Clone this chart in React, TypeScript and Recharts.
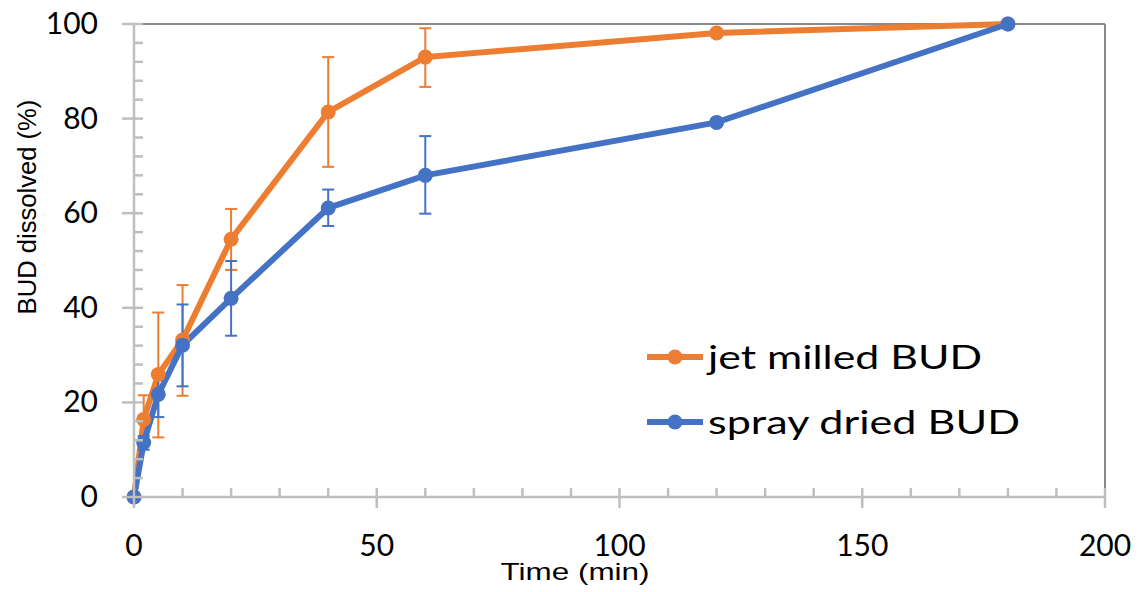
import React from 'react';
import { LineChart, Line, XAxis, YAxis, ErrorBar, ReferenceLine, Legend } from 'recharts';

const times = [0, 2, 5, 10, 20, 40, 60, 120, 180];

const jetMilled = [0, 16.4, 25.9, 33.2, 54.5, 81.4, 93.0, 98.1, 100];
const jetMilledHigh = [0, 21.5, 39.0, 44.8, 60.9, 93.0, 99.1, 98.1, 100];
const jetMilledLow = [0, 11.2, 12.6, 21.4, 48.0, 69.8, 86.7, 98.1, 100];

const sprayDried = [0, 11.5, 21.7, 32.1, 42.0, 61.1, 68.0, 79.2, 100];
const sprayDriedHigh = [0, 12.9, 26.6, 40.7, 49.9, 65.0, 76.3, 79.2, 100];
const sprayDriedLow = [0, 10.0, 16.9, 23.4, 34.1, 57.3, 59.9, 79.2, 100];

const xTicks = [0, 10, 20, 30, 40, 50, 60, 70, 80, 90, 100, 110, 120, 130, 140, 150, 160, 170, 180, 190, 200];
const xLabels = [0, 50, 100, 150, 200];
const yTicks = [0, 4, 8, 12, 16, 20, 24, 28, 32, 36, 40, 44, 48, 52, 56, 60, 64, 68, 72, 76, 80, 84, 88, 92, 96, 100];
const yLabels = [0, 20, 40, 60, 80, 100];

const ORANGE = '#ED7D31';
const BLUE = '#4472C4';
const AXIS = '#BFBFBF';

const data = times.map((t, i) => ({
  t,
  jet: jetMilled[i],
  jetErr: [jetMilled[i] - jetMilledLow[i], jetMilledHigh[i] - jetMilled[i]],
  spray: sprayDried[i],
  sprayErr: [sprayDried[i] - sprayDriedLow[i], sprayDriedHigh[i] - sprayDried[i]],
}));

const XTick = (props: any) => {
  const { x, y, payload } = props;
  const major = xLabels.includes(payload.value);
  return (
    <g>
      <line x1={x} x2={x} y1={y - 9} y2={major ? y + 11 : y} stroke={AXIS} strokeWidth={2.5} />
      {major && (
        <text x={x} y={y + 59} textAnchor="middle" fontFamily="Lato" fontSize={30} fill="#000">
          {payload.value}
        </text>
      )}
    </g>
  );
};

const YTick = (props: any) => {
  const { x, y, payload } = props;
  const major = yLabels.includes(payload.value);
  return (
    <g>
      <line x1={major ? x - 12 : x} x2={x + 9} y1={y} y2={y} stroke={AXIS} strokeWidth={2.5} />
      {major && (
        <text x={x - 36} y={y + 10} textAnchor="end" fontFamily="Lato" fontSize={30} fill="#000">
          {payload.value}
        </text>
      )}
    </g>
  );
};

const LegendBox = () => (
  <svg width={420} height={130} style={{ display: 'block' }}>
    {[
      { c: ORANGE, label: 'jet milled BUD', w: 274, y: 32 },
      { c: BLUE, label: 'spray dried BUD', w: 312, y: 97 },
    ].map((r) => (
      <g key={r.label}>
        <line x1={7} x2={63} y1={r.y} y2={r.y} stroke={r.c} strokeWidth={6} />
        <circle cx={35} cy={r.y} r={7.5} fill={r.c} />
        <text x={68} y={r.y + 12} fontFamily="Lato" fontSize={32} fill="#000" textLength={r.w} lengthAdjust="spacingAndGlyphs">
          {r.label}
        </text>
      </g>
    ))}
  </svg>
);

export default function App() {
  return (
    <div style={{ position: 'absolute', left: 0, top: 0, width: 1141, height: 592, background: '#fff' }}>
      <LineChart width={1141} height={592} data={data} margin={{ top: 24, right: 36, bottom: 0, left: 0 }}>
        <ReferenceLine y={100} stroke="#898989" strokeWidth={2} />
        <ReferenceLine x={200} stroke="#898989" strokeWidth={2} />
        <XAxis
          dataKey="t"
          type="number"
          domain={[0, 200]}
          ticks={xTicks}
          interval={0}
          height={95}
          tickSize={0}
          tickMargin={0}
          tickLine={false}
          axisLine={{ stroke: AXIS, strokeWidth: 2.5 }}
          tick={<XTick />}
          label={{
            content: (p: any) => (
              <text
                x={p.viewBox.x + 441}
                y={p.viewBox.y + 83}
                textAnchor="middle"
                fontFamily="Liberation Sans"
                fontSize={24}
                fill="#000"
                textLength={149}
                lengthAdjust="spacingAndGlyphs"
              >
                Time (min)
              </text>
            ),
          }}
        />
        <YAxis
          type="number"
          domain={[0, 100]}
          ticks={yTicks}
          interval={0}
          width={134}
          tickSize={0}
          tickMargin={0}
          tickLine={false}
          axisLine={{ stroke: AXIS, strokeWidth: 2.5 }}
          tick={<YTick />}
          label={{
            content: () => (
              <text
                x={36}
                y={207}
                transform="rotate(-90 36 207)"
                textAnchor="middle"
                fontFamily="Liberation Sans"
                fontSize={25.6}
                fill="#000"
              >
                BUD dissolved (%)
              </text>
            ),
          }}
        />
        <Line
          dataKey="jet"
          stroke={ORANGE}
          strokeWidth={6}
          dot={{ r: 7.5, fill: ORANGE, stroke: ORANGE, strokeWidth: 0 }}
          isAnimationActive={false}
        >
          <ErrorBar dataKey="jetErr" direction="y" width={6} stroke={ORANGE} strokeWidth={2} />
        </Line>
        <Line
          dataKey="spray"
          stroke={BLUE}
          strokeWidth={6}
          dot={{ r: 7.5, fill: BLUE, stroke: BLUE, strokeWidth: 0 }}
          isAnimationActive={false}
        >
          <ErrorBar dataKey="sprayErr" direction="y" width={6} stroke={BLUE} strokeWidth={2} />
        </Line>
        <Legend
          layout="horizontal"
          verticalAlign="middle"
          align="center"
          wrapperStyle={{ left: 640, top: 325, width: 420, height: 130 }}
          content={() => <LegendBox />}
        />
      </LineChart>
    </div>
  );
}
